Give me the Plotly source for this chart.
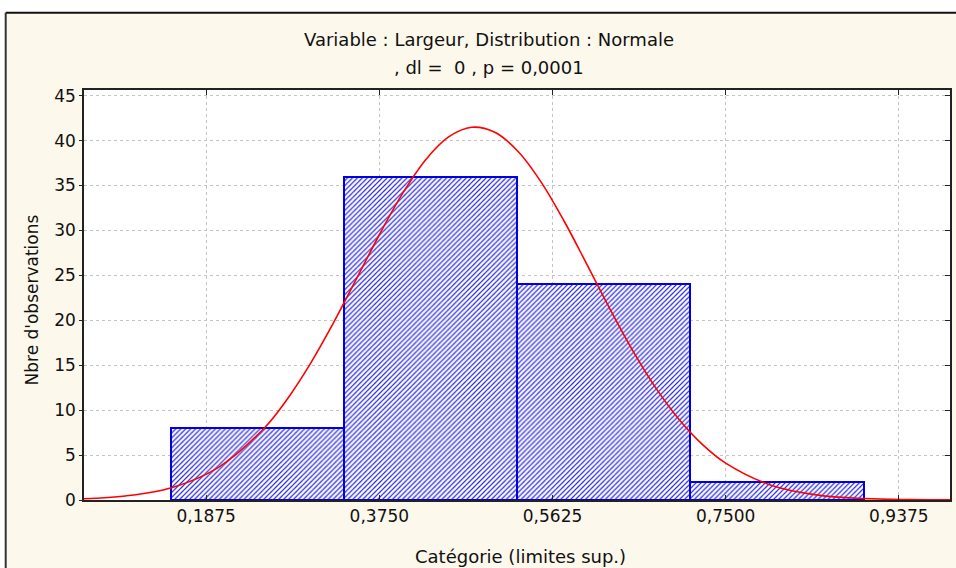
import plotly.graph_objects as go

# Histogram data (bin lower edges, bin width, counts)
bin_left = [0.1494, 0.3369, 0.5244, 0.7119]
bin_width = 0.1875
counts = [8, 36, 24, 2]

# Fitted normal curve
curve_x = [0.055, 0.10, 0.15, 0.20, 0.25, 0.275, 0.30, 0.325, 0.35, 0.375, 0.40, 0.425,
           0.45, 0.475, 0.50, 0.525, 0.55, 0.575, 0.60, 0.625, 0.65, 0.675, 0.70, 0.725,
           0.75, 0.80, 0.85, 0.90, 0.95, 0.993]
curve_y = [0.14, 0.45, 1.37, 3.58, 7.96, 11.19, 15.13, 19.66, 24.57, 29.52, 34.09, 37.85,
           40.41, 41.48, 40.92, 38.82, 35.41, 31.05, 26.17, 21.2, 16.52, 12.37, 8.91, 6.17,
           4.11, 1.62, 0.54, 0.16, 0.04, 0.01]

x_tickvals = [0.1875, 0.3750, 0.5625, 0.7500, 0.9375]
x_ticktext = ["0,1875", "0,3750", "0,5625", "0,7500", "0,9375"]
y_tickvals = [0, 5, 10, 15, 20, 25, 30, 35, 40, 45]

title_line1 = "Variable : Largeur, Distribution : Normale"
title_line2 = ", dl =  0 , p = 0,0001"
x_title = "Catégorie (limites sup.)"
y_title = "Nbre d'observations"

FONT = "DejaVu Sans"
CREAM = "#FDF8EC"

PL, PR, PT, PB = 83.5, 951.7, 90.3, 500.0
PW, PH = PR - PL, PB - PT


def px_x(v):
    return (v - PL) / PW


def px_y(v):
    return (PB - v) / PH


fig = go.Figure()
fig.add_trace(go.Bar(
    x=bin_left, y=counts, width=bin_width, offset=0,
    marker=dict(
        color="white",
        line=dict(color="#0000E0", width=2),
        pattern=dict(shape="/", fgcolor="#2828E8", bgcolor="white",
                     size=3.5, solidity=0.35, fillmode="replace"),
    ),
    showlegend=False, hoverinfo="skip",
))
fig.add_trace(go.Scatter(
    x=curve_x, y=curve_y, mode="lines",
    line=dict(color="#FF0000", width=1.6, shape="spline", smoothing=1.0),
    showlegend=False, hoverinfo="skip",
))
# dummy trace so that the right-hand (inside-tick) axis is drawn
fig.add_trace(go.Scatter(x=[None], y=[None], yaxis="y2", showlegend=False, hoverinfo="skip"))

yrange = [0, 45.63]
fig.update_layout(
    width=956, height=568,
    margin=dict(l=PL, r=956 - PR, t=PT, b=568 - PB),
    paper_bgcolor=CREAM,
    plot_bgcolor="white",
    font=dict(family=FONT, size=17, color="#111111"),
    bargap=0,
    xaxis=dict(
        range=[0.0552, 0.9929], tickvals=x_tickvals, ticktext=x_ticktext,
        ticks="inside", ticklen=5, tickcolor="#222222", mirror="ticks",
        showline=True, linecolor="#222222", linewidth=1.5,
        showgrid=True, gridcolor="#C4C4C4", griddash="dot", gridwidth=1,
        zeroline=False, tickfont=dict(size=17),
    ),
    yaxis=dict(
        range=yrange, tickvals=y_tickvals,
        ticks="outside", ticklen=3, tickcolor="#222222",
        showline=True, linecolor="#222222", linewidth=1.5, mirror=True,
        showgrid=True, gridcolor="#C4C4C4", griddash="dot", gridwidth=1,
        zeroline=False, tickfont=dict(size=17),
    ),
    yaxis2=dict(
        range=yrange, tickvals=y_tickvals, overlaying="y", side="right",
        ticks="inside", ticklen=5, tickcolor="#222222", showticklabels=False,
        showgrid=False, zeroline=False, showline=False,
    ),
    shapes=[
        # white margin above and left of the cream frame
        dict(type="rect", xref="paper", yref="paper",
             x0=px_x(-5), x1=px_x(970), y0=px_y(13), y1=px_y(-5),
             fillcolor="white", line=dict(width=0), layer="below"),
        dict(type="rect", xref="paper", yref="paper",
             x0=px_x(-5), x1=px_x(5), y0=px_y(580), y1=px_y(13),
             fillcolor="white", line=dict(width=0), layer="below"),
        # frame border lines
        dict(type="line", xref="paper", yref="paper",
             x0=px_x(5), x1=px_x(970), y0=px_y(13), y1=px_y(13),
             line=dict(color="#111111", width=2), layer="below"),
        dict(type="line", xref="paper", yref="paper",
             x0=px_x(5), x1=px_x(5), y0=px_y(13), y1=px_y(580),
             line=dict(color="#333333", width=2), layer="below"),
    ],
    annotations=[
        dict(text=title_line1, xref="paper", yref="paper",
             x=px_x(490), y=px_y(40),
             xanchor="center", yanchor="middle", showarrow=False,
             font=dict(size=18, family=FONT)),
        dict(text=title_line2, xref="paper", yref="paper",
             x=px_x(490), y=px_y(68),
             xanchor="center", yanchor="middle", showarrow=False,
             font=dict(size=18, family=FONT)),
        dict(text=x_title, xref="paper", yref="paper",
             x=px_x(521), y=px_y(556),
             xanchor="center", yanchor="middle", showarrow=False,
             font=dict(size=18, family=FONT)),
        dict(text=y_title, xref="paper", yref="paper",
             x=px_x(31), y=px_y(300), textangle=-90,
             xanchor="center", yanchor="middle", showarrow=False,
             font=dict(size=17, family=FONT)),
    ],
)

fig.write_html("out.html")
